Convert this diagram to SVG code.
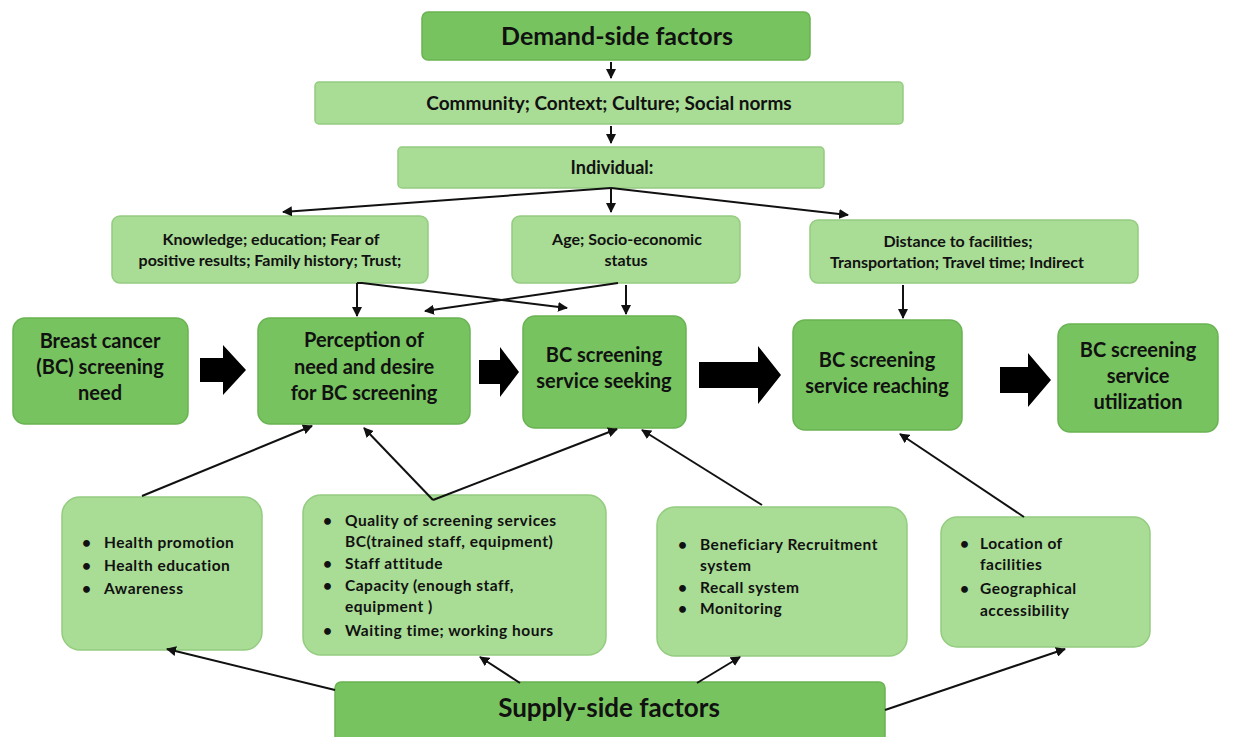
<svg xmlns="http://www.w3.org/2000/svg" width="1233" height="737" viewBox="0 0 1233 737">
<defs>
<style>
.dark{fill:#77c35f;stroke:#6ab352;stroke-width:1.5}
.light{fill:#a9dc95;stroke:#94cc80;stroke-width:1.5}
text{font-family:Lato,"Liberation Sans",sans-serif;font-weight:bold;fill:#111}
.big{font-size:25px}
.mid{font-size:19px}
.sm{font-size:16px}
.main{font-size:20px}
.bl{font-size:15.5px;letter-spacing:0.5px}
.c{text-anchor:middle}
.ln{stroke:#111;stroke-width:2;fill:none;marker-end:url(#ah)}
.fat{fill:#000}
</style>
<marker id="ah" viewBox="0 0 10 10" refX="9" refY="5" markerWidth="5" markerHeight="5" orient="auto"><path d="M0,0 L10,5 L0,10 z" fill="#111"/></marker>
</defs>
<rect width="1233" height="737" fill="#fff"/>

<g id="demand"><rect class="dark" x="422" y="12" width="388" height="48" rx="6"/><text class="big c" x="617" y="45">Demand-side factors</text></g>
<g id="community"><rect class="light" x="315" y="82" width="588" height="42" rx="4"/><text class="mid c" x="609" y="110">Community; Context; Culture; Social norms</text></g>
<g id="individual"><rect class="light" x="398" y="147" width="426" height="41" rx="4"/><text class="mid c" x="612" y="174" style="font-size:18px">Individual:</text></g>

<g id="knowledge"><rect class="light" x="112" y="216" width="316" height="67" rx="8"/><text class="sm c" x="271" y="245">Knowledge; education; Fear of</text><text class="sm c" x="270" y="266">positive results; Family history; Trust;</text></g>
<g id="age"><rect class="light" x="512" y="216" width="228" height="67" rx="8"/><text class="sm c" x="627" y="245">Age; Socio-economic</text><text class="sm c" x="626" y="266">status</text></g>
<g id="distance"><rect class="light" x="810" y="220" width="328" height="63" rx="8"/><text class="sm c" x="958" y="247">Distance to facilities;</text><text class="sm c" x="957" y="268">Transportation; Travel time; Indirect</text></g>

<g id="need"><rect class="dark" x="13" y="318" width="175" height="106" rx="12"/><text class="main c" x="100" y="348">Breast cancer</text><text class="main c" x="100" y="374">(BC) screening</text><text class="main c" x="100" y="400">need</text></g>
<g id="perception"><rect class="dark" x="258" y="318" width="212" height="106" rx="12"/><text class="main c" x="364" y="347">Perception of</text><text class="main c" x="364" y="374">need and desire</text><text class="main c" x="364" y="400">for BC screening</text></g>
<g id="seeking"><rect class="dark" x="523" y="316" width="163" height="112" rx="12"/><text class="main c" x="604" y="362">BC screening</text><text class="main c" x="604" y="388">service seeking</text></g>
<g id="reaching"><rect class="dark" x="793" y="320" width="169" height="110" rx="12"/><text class="main c" x="877" y="367">BC screening</text><text class="main c" x="877" y="393">service reaching</text></g>
<g id="utilization"><rect class="dark" x="1058" y="324" width="160" height="108" rx="12"/><text class="main c" x="1138" y="357">BC screening</text><text class="main c" x="1138" y="383">service</text><text class="main c" x="1138" y="409">utilization</text></g>

<g id="health"><rect class="light" x="62" y="497" width="200" height="153" rx="18"/>
<text class="bl" x="82" y="548">•</text><text class="bl" x="104" y="548">Health promotion</text>
<text class="bl" x="82" y="571">•</text><text class="bl" x="104" y="571">Health education</text>
<text class="bl" x="82" y="594">•</text><text class="bl" x="104" y="594">Awareness</text></g>
<g id="quality"><rect class="light" x="303" y="495" width="303" height="160" rx="18"/>
<text class="bl" x="323" y="526">•</text><text class="bl" x="345" y="526">Quality of screening services</text>
<text class="bl" x="345" y="547">BC(trained staff, equipment)</text>
<text class="bl" x="323" y="569">•</text><text class="bl" x="345" y="569">Staff attitude</text>
<text class="bl" x="323" y="591">•</text><text class="bl" x="345" y="591">Capacity (enough staff,</text>
<text class="bl" x="345" y="612">equipment )</text>
<text class="bl" x="323" y="636">•</text><text class="bl" x="345" y="636">Waiting time; working hours</text></g>
<g id="recruit"><rect class="light" x="657" y="507" width="250" height="149" rx="18"/>
<text class="bl" x="678" y="550">•</text><text class="bl" x="700" y="550">Beneficiary Recruitment</text>
<text class="bl" x="700" y="571">system</text>
<text class="bl" x="678" y="593">•</text><text class="bl" x="700" y="593">Recall system</text>
<text class="bl" x="678" y="614">•</text><text class="bl" x="700" y="614">Monitoring</text></g>
<g id="location"><rect class="light" x="941" y="517" width="209" height="130" rx="16"/>
<text class="bl" x="960" y="549">•</text><text class="bl" x="980" y="549">Location of</text>
<text class="bl" x="980" y="570">facilities</text>
<text class="bl" x="960" y="594">•</text><text class="bl" x="980" y="594">Geographical</text>
<text class="bl" x="980" y="616">accessibility</text></g>

<g id="supply"><rect class="dark" x="335" y="682" width="550" height="60" rx="6"/><text class="big c" x="609" y="717" style="font-size:26px">Supply-side factors</text></g>

<g id="connectors">
<line class="ln" x1="611" y1="62" x2="611" y2="78"/>
<line class="ln" x1="611" y1="126" x2="611" y2="143"/>
<line class="ln" x1="611" y1="188" x2="283" y2="212"/>
<line class="ln" x1="611" y1="188" x2="611" y2="212"/>
<line class="ln" x1="611" y1="188" x2="848" y2="215"/>
<line class="ln" x1="357" y1="283" x2="357" y2="316"/>
<polyline class="ln" points="357,283 362,283 567,308"/>
<line class="ln" x1="618" y1="283" x2="425" y2="311"/>
<line class="ln" x1="626" y1="285" x2="626" y2="314"/>
<line class="ln" x1="903" y1="285" x2="903" y2="318"/>
<line class="ln" x1="142" y1="496" x2="312" y2="426"/>
<line class="ln" x1="433" y1="500" x2="364" y2="428"/>
<line class="ln" x1="433" y1="500" x2="617" y2="429"/>
<line class="ln" x1="762" y1="505" x2="642" y2="430"/>
<line class="ln" x1="1024" y1="517" x2="900" y2="434"/>
<line class="ln" x1="335" y1="690" x2="167" y2="649"/>
<line class="ln" x1="520" y1="683" x2="480" y2="657"/>
<line class="ln" x1="697" y1="683" x2="740" y2="657"/>
<line class="ln" x1="885" y1="710" x2="1065" y2="649"/>
<path class="fat" d="M200,358 H223 V345 L246,370 L223,395 V382 H200 Z"/>
<path class="fat" d="M479,360 H500 V347 L519,372 L500,397 V384 H479 Z"/>
<path class="fat" d="M699,362 H758 V346 L781,375 L758,404 V388 H699 Z"/>
<path class="fat" d="M1000,367 H1028 V353 L1051,380 L1028,407 V393 H1000 Z"/>
</g>
</svg>
